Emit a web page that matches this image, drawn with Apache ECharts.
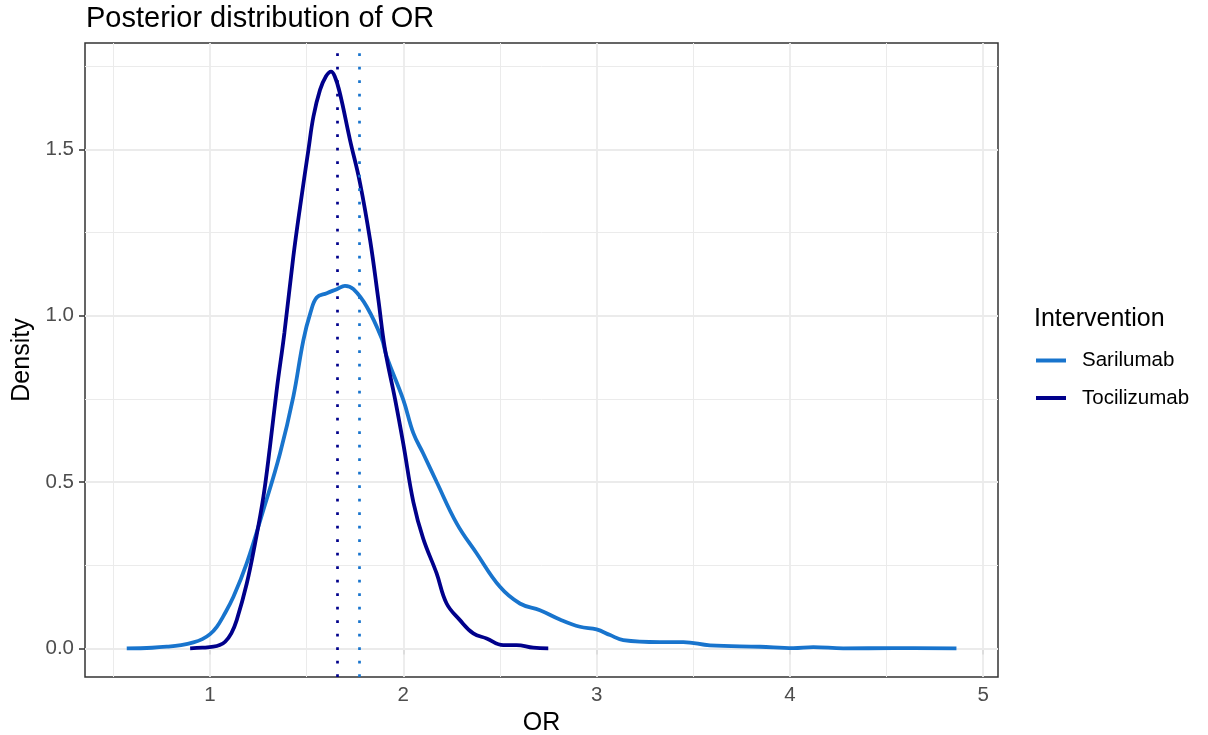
<!DOCTYPE html>
<html lang="en">
<head>
    <meta charset="UTF-8">
    <title>Posterior distribution of OR</title>
    <script src="https://cdn.jsdelivr.net/npm/echarts@6/dist/echarts.min.js"></script>
    <style>
        * { margin: 0; padding: 0; }
        body { background: #fff; overflow: hidden; }
        #main { width: 1208px; height: 735px; }
    </style>
</head>
<body>
<div id="main"></div>
<script type="text/javascript">
    // density curves (OR, density)
    var sariOR = [0.569, 0.70, 0.776, 0.85, 0.914, 0.96, 1.0, 1.035, 1.069, 1.121, 1.19, 1.276, 1.362, 1.431, 1.483, 1.52,
        1.552, 1.604, 1.656, 1.698, 1.742, 1.811, 1.888, 1.914, 2.0, 2.052, 2.103, 2.172, 2.276, 2.379, 2.5,
        2.603, 2.707, 2.81, 2.914, 3.0, 3.07, 3.138, 3.328, 3.449, 3.587, 3.845, 4.018, 4.121, 4.276, 4.535, 4.862];
    var sariDensity = [0, 0.002, 0.005, 0.010, 0.018, 0.028, 0.043, 0.065, 0.097, 0.155, 0.256, 0.416, 0.586, 0.757, 0.927, 1.01,
        1.055, 1.068, 1.080, 1.090, 1.080, 1.027, 0.932, 0.877, 0.747, 0.647, 0.586, 0.501, 0.376, 0.286, 0.185,
        0.135, 0.115, 0.087, 0.065, 0.057, 0.040, 0.025, 0.019, 0.019, 0.009, 0.005, 0.001, 0.004, 0, 0.001, 0];

    var tociOR = [0.897, 0.96, 1.017, 1.05, 1.078, 1.11, 1.138, 1.19, 1.233, 1.276, 1.31, 1.345, 1.385, 1.431, 1.466,
        1.509, 1.535, 1.569, 1.60, 1.626, 1.645, 1.672, 1.724, 1.776, 1.828, 1.871, 1.905, 1.957, 2.0, 2.052,
        2.103, 2.172, 2.224, 2.293, 2.362, 2.431, 2.517, 2.586, 2.672, 2.75];
    var tociDensity = [0, 0.002, 0.005, 0.010, 0.020, 0.045, 0.085, 0.195, 0.316, 0.456, 0.606, 0.777, 0.95, 1.178, 1.328,
        1.499, 1.599, 1.679, 1.720, 1.734, 1.720, 1.669, 1.529, 1.399, 1.228, 1.048, 0.900, 0.750, 0.615, 0.440,
        0.330, 0.226, 0.135, 0.085, 0.045, 0.030, 0.010, 0.010, 0.002, 0];

    // medians (dotted lines)
    var sariMedian = 1.767;
    var tociMedian = 1.655;

    var seriesNames = ['Sarilumab', 'Tocilizumab'];
    var xTicks = [1, 2, 3, 4, 5];
    var xMinor = [0.5, 1.5, 2.5, 3.5, 4.5];
    var yTicks = [0, 0.5, 1, 1.5];
    var yMinor = [0.25, 0.75, 1.25, 1.75];

    var sariColor = '#1874CD';
    var tociColor = '#00008B';
    var font = '"Liberation Sans", Arial, Helvetica, sans-serif';

    function pairs(xs, ys) {
        var out = [];
        for (var i = 0; i < xs.length; i++) out.push([xs[i], ys[i]]);
        return out;
    }

    // grid lines as markLines on a helper series
    var gridLines = [];
    xMinor.forEach(function (v) { gridLines.push({ xAxis: v, lineStyle: { width: 1 } }); });
    yMinor.forEach(function (v) { gridLines.push({ yAxis: v, lineStyle: { width: 1 } }); });
    xTicks.forEach(function (v) { gridLines.push({ xAxis: v, lineStyle: { width: 1.8 } }); });
    yTicks.forEach(function (v) { gridLines.push({ yAxis: v, lineStyle: { width: 1.8 } }); });

    function vline(v, color) {
        return {
            silent: true,
            symbol: ['none', 'none'],
            label: { show: false },
            animation: false,
            lineStyle: { color: color, width: 2.7, type: [2.7, 10.8], cap: 'butt' },
            data: [{ xAxis: v }]
        };
    }

    var myChart = echarts.init(document.getElementById('main'));
    var option = {
        animation: false,
        title: [
            {
                text: 'Posterior distribution of OR',
                left: 81, top: -1,
                textStyle: { fontFamily: font, fontSize: 29, fontWeight: 'normal', color: '#000' }
            },
            {
                text: 'Intervention',
                left: 1029, top: 302,
                textStyle: { fontFamily: font, fontSize: 25, fontWeight: 'normal', color: '#000' }
            }
        ],
        legend: {
            data: seriesNames,
            orient: 'vertical',
            left: 1031, top: 345,
            icon: 'rect',
            itemWidth: 30, itemHeight: 4,
            itemGap: 16.5,
            textStyle: { fontFamily: font, fontSize: 20.5, color: '#000', padding: [0, 0, 0, 11] }
        },
        grid: {
            left: 85, right: 210, top: 43, bottom: 58,
            show: true, borderColor: '#333333', borderWidth: 1.5,
            containLabel: false,
            outerBoundsMode: 'none'
        },
        xAxis: {
            type: 'value',
            min: 0.353, max: 5.077,
            name: 'OR', nameLocation: 'middle', nameGap: 32,
            nameTextStyle: { fontFamily: font, fontSize: 25, color: '#000' },
            axisLine: { show: false },
            axisTick: { show: true, length: 6, lineStyle: { color: '#333', width: 1.5 }, customValues: xTicks },
            axisLabel: { customValues: xTicks, fontFamily: font, fontSize: 20.5, color: '#4D4D4D', margin: 8 },
            splitLine: { show: false }
        },
        yAxis: {
            type: 'value',
            min: -0.086, max: 1.82,
            name: 'Density', nameLocation: 'middle', nameGap: 45, nameRotate: 90,
            nameTextStyle: { fontFamily: font, fontSize: 25, color: '#000' },
            axisLine: { show: false },
            axisTick: { show: true, length: 6, lineStyle: { color: '#333', width: 1.5 }, customValues: yTicks },
            axisLabel: {
                customValues: yTicks, fontFamily: font, fontSize: 20.5, color: '#4D4D4D', margin: 11,
                formatter: function (v) { return v.toFixed(1); }
            },
            splitLine: { show: false }
        },
        series: [
            {
                name: 'grid',
                type: 'line',
                data: [],
                z: 1,
                markLine: {
                    silent: true,
                    z: 1,
                    symbol: ['none', 'none'],
                    label: { show: false },
                    animation: false,
                    lineStyle: { color: '#EBEBEB', type: 'solid' },
                    data: gridLines
                }
            },
            {
                name: seriesNames[0],
                type: 'line',
                data: pairs(sariOR, sariDensity),
                smooth: 0.4,
                showSymbol: false,
                z: 3,
                itemStyle: { color: sariColor },
                lineStyle: { color: sariColor, width: 3.8 },
                markLine: vline(sariMedian, sariColor)
            },
            {
                name: seriesNames[1],
                type: 'line',
                data: pairs(tociOR, tociDensity),
                smooth: 0.4,
                showSymbol: false,
                z: 4,
                itemStyle: { color: tociColor },
                lineStyle: { color: tociColor, width: 3.8 },
                markLine: vline(tociMedian, tociColor)
            }
        ]
    };
    myChart.setOption(option);
</script>
</body>
</html>
